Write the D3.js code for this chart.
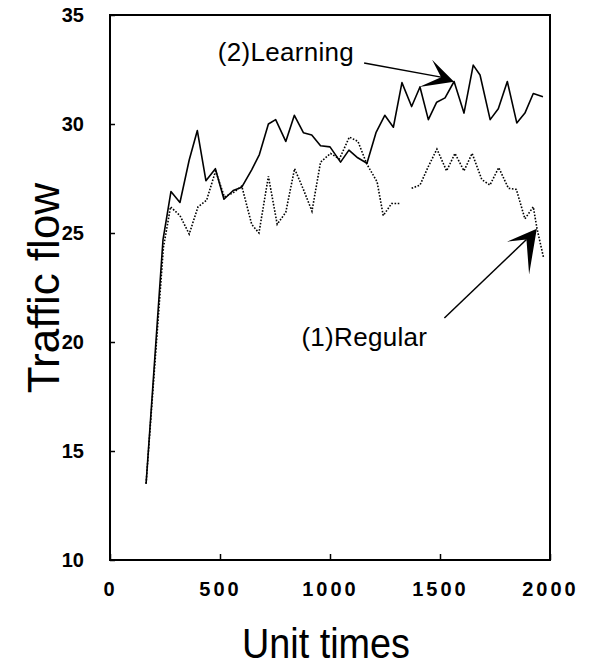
<!DOCTYPE html>
<html>
<head>
<meta charset="utf-8">
<script src="https://cdn.jsdelivr.net/npm/d3@7/dist/d3.min.js"></script>
<style>
  body { margin: 0; background: #fff; }
  svg text { font-family: "Liberation Sans", Arial, sans-serif; fill: #000; }
</style>
</head>
<body>
<svg id="chart" width="600" height="667"></svg>
<script>
// (2) Learning - solid line
var learnT = [164, 241, 277, 318, 360, 397, 436, 479, 518, 560, 599, 644, 679, 720, 753, 799, 838, 879, 917, 957,
              1000, 1048, 1086, 1126, 1168, 1209, 1249, 1288, 1327, 1371, 1409, 1447, 1485, 1523, 1564, 1609, 1651,
              1682, 1728, 1765, 1806, 1849, 1886, 1924, 1968];
var learnV = [13.5, 24.7, 26.9, 26.4, 28.35, 29.7, 27.4, 27.95, 26.55, 26.95, 27.1, 27.9, 28.6, 30.0, 30.2, 29.2, 30.4, 29.6, 29.5, 29.0,
              28.95, 28.25, 28.8, 28.45, 28.2, 29.6, 30.4, 29.85, 31.9, 30.8, 31.7, 30.2, 31.0, 31.2, 31.95, 30.5, 32.7,
              32.25, 30.2, 30.7, 31.95, 30.05, 30.5, 31.4, 31.25];

// (1) Regular - dotted line (null = gap in the printed trace)
var regT = [164, 243, 265, 275, 318, 360, 400, 439, 480, 520, 560, 599, 644, 677, 720, 760, 799, 839, 879, 918,
            957, 1002, 1043, 1088, 1127, 1168, 1214, 1242, 1280, 1315, 1340, 1371, 1409, 1447, 1486, 1530, 1568,
            1609, 1646, 1690, 1727, 1767, 1811, 1847, 1886, 1924, 1941, 1970];
var regV = [13.5, 24.35, 25.6, 26.2, 25.8, 24.95, 26.2, 26.5, 27.85, 26.65, 26.85, 27.15, 25.4, 25.0, 27.6, 25.4, 25.95, 27.95, 27.0, 26.0,
            28.25, 28.65, 28.4, 29.4, 29.2, 28.15, 27.35, 25.8, 26.35, 26.35, null, 27.05, 27.2, 28.05, 28.85, 27.85, 28.65,
            27.85, 28.65, 27.45, 27.2, 28.0, 27.05, 27.0, 25.65, 26.2, 25.2, 23.9];

var xTicks = [0, 500, 1000, 1500, 2000];
var yTicks = [10, 15, 20, 25, 30, 35];

var svg = d3.select("#chart");
var margin = {top: 15, right: 50, bottom: 107, left: 110},
    width = 600 - margin.left - margin.right,
    height = 667 - margin.top - margin.bottom;

var g = svg.append("g")
    .attr("transform", "translate(" + margin.left + "," + margin.top + ")");

var x = d3.scaleLinear().domain([0, 2000]).range([0, width]);
var y = d3.scaleLinear().domain([10, 35]).range([height, 0]);

// frame
g.append("rect")
    .attr("width", width).attr("height", height)
    .attr("fill", "none").attr("stroke", "#000").attr("stroke-width", 2);

// axes, ticks pointing inwards
var xAxis = g.append("g")
    .attr("transform", "translate(0," + height + ")")
    .call(d3.axisBottom(x).tickValues(xTicks).tickFormat(d3.format("d"))
        .tickSizeInner(-6).tickSizeOuter(0).tickPadding(22));
xAxis.select(".domain").remove();
xAxis.selectAll("line").attr("stroke-width", 1.5);
xAxis.selectAll("text")
    .style("font-size", "20px").style("font-weight", "bold").style("letter-spacing", "3px");

var yAxis = g.append("g")
    .call(d3.axisLeft(y).tickValues(yTicks).tickSizeInner(-5).tickSizeOuter(0).tickPadding(26));
yAxis.select(".domain").remove();
yAxis.selectAll("line").attr("stroke-width", 1.5);
yAxis.selectAll("text")
    .style("font-size", "20px").style("font-weight", "bold");

// lines
var lineLearn = d3.line()
    .x(function(d, i) { return x(learnT[i]); })
    .y(function(d) { return y(d); });

var lineReg = d3.line()
    .defined(function(d) { return d !== null; })
    .x(function(d, i) { return x(regT[i]); })
    .y(function(d) { return y(d); });

g.append("path")
    .datum(regV)
    .attr("fill", "none").attr("stroke", "#000")
    .attr("stroke-width", 1.6).attr("stroke-dasharray", "1.6,1.6")
    .attr("d", lineReg);

g.append("path")
    .datum(learnV)
    .attr("fill", "none").attr("stroke", "#000")
    .attr("stroke-width", 1.6).attr("stroke-linejoin", "round")
    .attr("d", lineLearn);

// annotations (data coordinates)
function arrow(from, tip, barb1, notch, barb2) {
    g.append("line")
        .attr("x1", x(from[0])).attr("y1", y(from[1]))
        .attr("x2", x(notch[0])).attr("y2", y(notch[1]))
        .attr("stroke", "#000").attr("stroke-width", 1.5);
    g.append("path")
        .attr("d", d3.line()([tip, barb1, notch, barb2].map(function(p) { return [x(p[0]), y(p[1])]; })) + "Z")
        .attr("fill", "#000");
}

g.append("text")
    .attr("x", x(490)).attr("y", y(32.9))
    .style("font-size", "26px").style("letter-spacing", "0.3px")
    .text("(2)Learning");
arrow([1155, 32.8], [1564, 31.94], [1464, 32.95], [1505, 32.15], [1405, 31.7]);

g.append("text")
    .attr("x", x(870)).attr("y", y(19.8))
    .style("font-size", "26px").style("letter-spacing", "0.3px")
    .text("(1)Regular");
arrow([1520, 21.1], [1940, 25.2], [1805, 24.6], [1893, 24.7], [1905, 23.1]);

// axis titles
svg.append("text")
    .attr("transform", "translate(" + (margin.left + width / 2 - 4) + ",658) scale(0.9,1)")
    .attr("text-anchor", "middle")
    .style("font-size", "42px")
    .text("Unit times");

svg.append("text")
    .attr("transform", "translate(59,288) rotate(-90)")
    .attr("text-anchor", "middle")
    .style("font-size", "44px")
    .text("Traffic flow");
</script>
</body>
</html>
